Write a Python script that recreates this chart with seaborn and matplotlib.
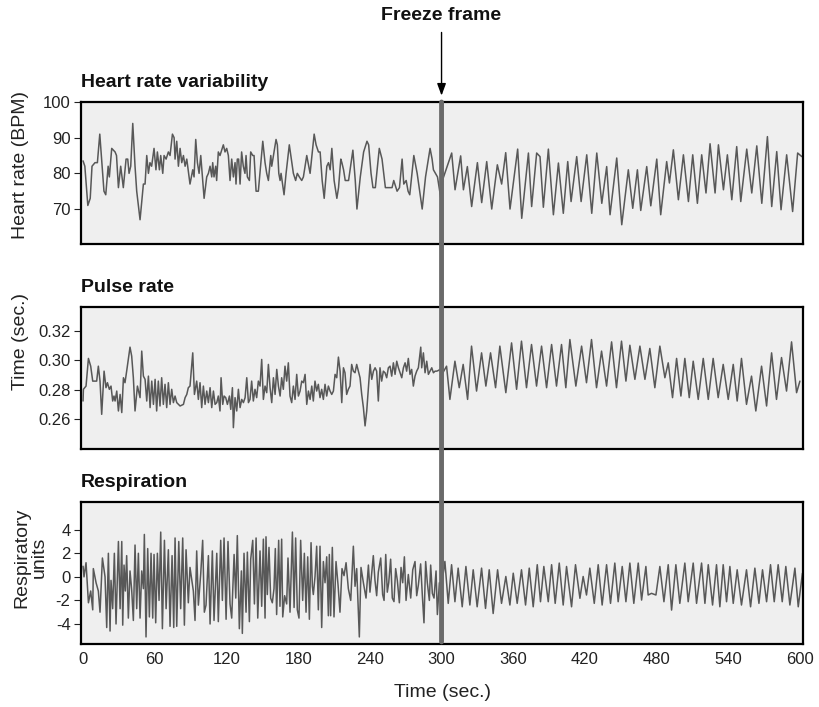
import matplotlib
matplotlib.use("Agg")
import matplotlib.pyplot as plt
import seaborn as sns
from matplotlib.patches import ConnectionPatch

# ---- data (time in seconds) ----
freeze_time = 300
x_ticks = [0, 60, 120, 180, 240, 300, 360, 420, 480, 540, 600]

hr_time = [
    0.0, 1.5, 4.0, 6.0, 7.5, 10.0, 12.0, 14.0, 17.5, 19.0, 21.0, 22.0, 24.0, 26.8, 28.0,
    29.6, 31.5, 33.7, 36.0, 37.4, 38.5, 39.9, 41.6, 43.5, 44.9, 47.7, 50.5, 51.9, 53.3,
    54.7, 56.0, 57.4, 59.4, 61.0, 62.2, 63.9, 65.0, 66.7, 67.8, 69.5, 71.4, 72.8, 74.8,
    76.2, 77.0, 78.4, 79.8, 81.2, 82.6, 84.0, 85.4, 86.8, 89.5, 91.8, 92.9, 94.3, 95.7,
    97.1, 98.5, 99.9, 101.3, 103.5, 104.9, 106.3, 107.7, 108.5, 109.6, 111.0, 111.8,
    113.2, 114.6, 117.4, 118.8, 120.2, 121.6, 123.0, 124.4, 125.8, 127.2, 128.0, 129.1,
    130.2, 131.4, 132.7, 134.1, 135.5, 136.4, 137.5, 139.2, 140.3, 142.0, 143.1, 144.8,
    146.7, 150.4, 152.3, 153.7, 155.1, 157.1, 157.9, 161.5, 162.6, 163.8, 164.9, 165.7,
    168.2, 169.9, 172.6, 174.3, 176.0, 177.9, 179.3, 181.0, 183.0, 184.4, 187.2, 190.0,
    193.4, 195.0, 197.0, 198.4, 200.1, 201.8, 204.0, 205.4, 206.8, 208.2, 210.1, 212.4,
    213.8, 215.7, 216.6, 218.0, 219.4, 222.2, 225.8, 227.8, 229.2, 232.0, 234.8, 237.6,
    239.0, 241.0, 242.6, 244.6, 247.9, 250.2, 253.0, 255.8, 258.6, 260.0, 262.8, 264.8,
    267.0, 268.4, 270.4, 272.0, 273.4, 276.8, 279.6, 283.8, 286.6, 290.4, 292.1, 293.2,
    296.6, 299.4,
    300.9, 308.5, 311.3, 316.0, 318.3, 321.6, 325.2, 330.0, 333.6, 337.8, 342.0, 346.7,
    350.3, 353.7, 357.3, 363.7, 367.1, 372.7, 375.4, 379.6, 382.4, 385.2, 389.4, 393.6,
    397.8, 401.9, 405.6, 408.4, 413.1, 416.8, 421.5, 425.7, 429.9, 434.1, 438.2, 441.0,
    446.6, 450.8, 456.3, 460.0, 463.9, 466.7, 471.7, 475.1, 480.1, 483.4, 488.4, 490.7,
    494.0, 498.2, 502.4, 506.6, 510.2, 514.1, 517.7, 521.3, 524.7, 528.9, 531.7, 535.9,
    539.2, 542.9, 547.0, 550.4, 555.4, 559.6, 563.8, 568.0, 572.7, 576.3, 580.5, 584.1,
    588.8, 593.8, 598.0, 601.5,
]
hr_bpm = [
    83.5, 82, 71, 73, 82, 83, 83, 91, 75, 74, 82, 79, 87, 86, 85,
    76, 82, 76, 84, 84, 80, 82, 94, 82, 75, 67, 77, 77, 85,
    80, 83, 82, 87, 81, 86, 81, 85, 80, 85, 84, 86, 85, 91,
    90, 84, 89, 82, 87, 83, 85, 82, 84, 77, 81, 79, 89.5, 83,
    80, 85, 79, 73, 79, 80, 82, 79, 83, 79, 82, 78,
    86, 85, 88, 86, 87, 85, 78, 84, 79, 83, 77, 84,
    84, 77, 86, 82, 80, 85, 79, 78, 86, 85, 85, 75,
    75, 89, 83, 80, 78, 85, 82, 89.5, 88, 80, 78, 80,
    74, 80, 88, 84, 80, 78, 80, 79, 78, 79, 85, 80,
    91, 88, 86, 86, 78, 73, 82, 83, 81, 87, 78, 73,
    76, 84, 83, 81, 78, 78, 86.5, 78, 70, 79, 86, 89,
    88, 80, 76, 76, 87, 84, 76, 76, 76, 78, 75, 76,
    84, 77, 78, 75, 74, 85, 80, 70, 79, 87, 84, 81,
    79, 73,
    78.2, 85.7, 75.4, 84.9, 75.4, 81.9, 70.7, 83.0, 71.8, 83.3, 70.0, 82.4,
    77.0, 85.8, 70.0, 86.8, 67.4, 85.7, 70.7, 85.7, 84.7, 70.5, 86.8, 68.4,
    82.9, 68.8, 83.3, 72.1, 84.7, 72.1, 85.2, 68.8, 85.7, 71.6, 81.9, 68.4,
    84.3, 65.6, 81.0, 70.2, 81.0, 69.6, 81.9, 70.9, 84.0, 68.4, 83.3, 77.3,
    86.6, 72.6, 85.2, 72.1, 85.2, 71.6, 85.2, 74.5, 88.3, 74.5, 88.0, 75.4,
    85.2, 72.6, 87.5, 72.1, 86.8, 74.5, 87.7, 71.6, 90.3, 70.7, 86.1, 69.8,
    85.2, 69.3, 85.7, 84.7,
]

pulse_time = [
    0.0, 0.3, 2.5, 4.5, 6.4, 8.1, 11.4, 12.8, 14.2, 15.6, 17.6, 19.2, 20.4, 22.0, 23.4,
    24.8, 25.9, 26.8, 28.2, 29.6, 31.0, 32.4, 33.8, 35.1, 36.5, 39.3, 40.7, 42.1, 43.5,
    45.5, 47.7, 49.1, 50.5, 51.9, 53.3, 54.7, 56.1, 57.5, 58.9, 60.3, 61.6, 63.0, 64.4,
    65.8, 67.2, 68.6, 70.0, 71.4, 72.8, 74.2, 75.6, 77.0, 78.4, 79.8, 81.2, 84.0, 85.4,
    86.8, 88.1, 89.5, 91.8, 93.2, 95.1, 96.5, 97.9, 99.3, 100.7, 102.1, 103.5, 104.9,
    106.3, 107.7, 109.1, 110.5, 111.9, 113.2, 114.6, 115.5, 116.9, 118.0, 119.4, 120.8,
    122.5, 123.6, 125.0, 125.8, 127.2, 128.6, 130.0, 131.4, 132.8, 134.2, 135.6, 137.0,
    138.4, 139.7, 141.1, 142.5, 143.9, 145.3, 146.7, 148.1, 149.5, 150.9, 152.3, 153.7,
    155.1, 156.5, 157.9, 159.3, 160.7, 162.1, 163.5, 164.9, 166.2, 167.6, 169.0, 170.4,
    171.8, 173.2, 174.6, 176.0, 177.4, 178.8, 180.2, 181.6, 183.0, 184.4, 185.8, 187.2,
    188.6, 190.0, 191.4, 192.7, 194.1, 195.5, 196.9, 198.3, 199.7, 201.1, 202.5, 203.9,
    205.3, 206.7, 208.1, 209.5, 210.9, 212.3, 213.7, 215.1, 216.5, 217.9, 219.2, 220.6,
    222.0, 223.4, 224.8, 226.2, 227.6, 229.0, 230.4, 231.8, 233.2, 234.6, 236.0, 237.4,
    238.8, 240.2, 241.6, 243.0, 244.4, 245.7, 247.1, 248.5, 249.9, 251.3, 252.7, 254.1,
    255.5, 256.9, 258.3, 259.7, 261.1, 262.5, 263.9, 265.3, 266.7, 268.1, 269.5, 270.8,
    272.2, 273.6, 275.0, 276.4, 277.8, 279.2, 280.6, 282.6, 283.4, 284.8, 286.2, 287.6,
    289.0, 290.4, 291.8, 293.2, 294.6, 296.0, 297.4, 298.7,
    300.0, 304.2, 307.0, 311.2, 314.8, 318.1, 321.8, 325.1, 329.3, 333.5, 337.1, 341.0,
    345.2, 348.8, 353.8, 358.6, 362.8, 366.9, 371.1, 375.3, 379.5, 383.7, 387.9, 392.1,
    396.2, 400.4, 404.0, 407.4, 412.4, 417.2, 421.3, 425.5, 429.7, 433.9, 438.1, 442.3,
    446.4, 450.6, 454.3, 457.6, 461.8, 466.0, 470.2, 474.3, 478.5, 482.7, 486.9, 489.7,
    493.3, 496.7, 500.3, 503.6, 507.3, 510.6, 514.8, 519.0, 523.2, 527.3, 531.5, 535.7,
    539.9, 544.1, 547.4, 551.0, 555.2, 559.4, 563.0, 567.8, 572.0, 576.2, 580.3, 584.5,
    588.7, 592.9, 597.1, 599.9,
]
pulse_sec = [
    0.2723, 0.2803, 0.2825, 0.3014, 0.2961, 0.2859, 0.2859, 0.2961, 0.2859, 0.2632,
    0.2927, 0.2814, 0.2848, 0.2803, 0.2825, 0.2723, 0.2757, 0.2723, 0.2791, 0.2655,
    0.2768, 0.2644, 0.2882, 0.2848, 0.2927, 0.3091, 0.3030, 0.2882, 0.2655, 0.2825,
    0.2746, 0.3064, 0.2893, 0.2871, 0.2723, 0.2893, 0.2678, 0.2859, 0.2700, 0.2871,
    0.2655, 0.2859, 0.2689, 0.2882, 0.2700, 0.2837, 0.2678, 0.2848, 0.2700, 0.2803,
    0.2712, 0.2757, 0.2712, 0.2700, 0.2689, 0.2700, 0.2746, 0.2768, 0.2814, 0.2825,
    0.3052, 0.2768, 0.2859, 0.2734, 0.2848, 0.2678, 0.2825, 0.2700, 0.2791, 0.2712,
    0.2814, 0.2678, 0.2791, 0.2700, 0.2712, 0.2757, 0.2655, 0.2882, 0.2700, 0.2757,
    0.2746, 0.2700, 0.2757, 0.2666, 0.2814, 0.2541, 0.2746, 0.2655, 0.2803, 0.2678,
    0.2734, 0.2712, 0.2746, 0.2882, 0.2712, 0.2734, 0.2859, 0.2723, 0.2803, 0.2746,
    0.2859, 0.2825, 0.3007, 0.2734, 0.2825, 0.2780, 0.2973, 0.2814, 0.2712, 0.2882,
    0.2768, 0.2939, 0.2825, 0.2757, 0.2882, 0.2803, 0.2961, 0.2859, 0.2984, 0.2757,
    0.2712, 0.2825, 0.2734, 0.2905, 0.2757, 0.2791, 0.2859, 0.2848, 0.2905, 0.2700,
    0.2791, 0.2734, 0.2825, 0.2723, 0.2859, 0.2791, 0.2837, 0.2746, 0.2803, 0.2734,
    0.2837, 0.2757, 0.2825, 0.2791, 0.2768, 0.2791, 0.2905, 0.2882, 0.3023, 0.2927,
    0.2712, 0.2950, 0.2916, 0.2768, 0.2803, 0.2825, 0.2973, 0.2927, 0.2916, 0.2973,
    0.2927, 0.2882, 0.2768, 0.2678, 0.2553, 0.2655, 0.2814, 0.2973, 0.2871, 0.2927,
    0.2950, 0.2927, 0.2723, 0.2950, 0.2859, 0.2927, 0.2916, 0.2882, 0.2950, 0.2961,
    0.2893, 0.2984, 0.2905, 0.2995, 0.2950, 0.2916, 0.2882, 0.2950, 0.2984, 0.2927,
    0.3014, 0.2905, 0.2939, 0.2825, 0.2893, 0.2927, 0.2950, 0.3091, 0.2950, 0.3052,
    0.2916, 0.2995, 0.2905, 0.2927, 0.2950, 0.2916, 0.2927, 0.2927, 0.2932, 0.2939,
    0.2900, 0.2961, 0.2734, 0.2995, 0.2814, 0.2973, 0.2734, 0.3098, 0.2791, 0.3052,
    0.2825, 0.3052, 0.2814, 0.3098, 0.2780, 0.3120, 0.2803, 0.3132, 0.2814, 0.3109,
    0.2825, 0.3098, 0.2814, 0.3109, 0.2825, 0.3109, 0.2814, 0.3143, 0.2825, 0.3098,
    0.2848, 0.3143, 0.2814, 0.3064, 0.2825, 0.3127, 0.2814, 0.3132, 0.2859, 0.3104,
    0.2871, 0.3098, 0.2871, 0.3082, 0.2814, 0.3098, 0.2882, 0.2984, 0.2746, 0.3014,
    0.2757, 0.3014, 0.2746, 0.2995, 0.2734, 0.3014, 0.2734, 0.3014, 0.2746, 0.2973,
    0.2734, 0.2973, 0.2723, 0.3014, 0.2700, 0.2893, 0.2655, 0.2961, 0.2689, 0.3052,
    0.2734, 0.3020, 0.2791, 0.3127, 0.2780, 0.2859,
]

resp_time = [
    0.0, 0.8, 2.5, 4.5, 6.4, 8.1, 8.6, 10.9, 12.8, 14.2, 16.2, 18.4, 19.8, 21.2, 22.6,
    23.4, 24.8, 26.2, 27.6, 29.6, 31.0, 32.4, 33.2, 34.3, 35.4, 36.5, 37.9, 39.3, 40.7,
    42.1, 43.5, 44.9, 46.3, 47.7, 49.1, 50.5, 51.3, 52.7, 54.1, 55.5, 56.9, 58.3, 59.4,
    60.8, 62.2, 63.6, 65.0, 66.4, 68.1, 69.5, 71.4, 72.8, 74.5, 75.9, 77.0, 78.4, 80.1,
    81.7, 83.4, 84.8, 86.2, 88.1, 89.5, 92.3, 93.7, 95.1, 96.5, 98.5, 100.1, 101.5,
    102.9, 104.9, 106.3, 108.2, 109.6, 111.9, 113.2, 115.2, 116.6, 118.0, 119.7, 121.3,
    123.0, 124.4, 126.4, 127.8, 129.1, 130.8, 132.5, 133.3, 134.7, 136.4, 137.5, 139.2,
    140.3, 142.0, 143.4, 144.8, 146.2, 148.1, 149.5, 150.9, 152.3, 153.1, 154.2, 155.6,
    157.0, 158.4, 159.8, 160.9, 162.0, 163.7, 164.8, 166.2, 167.1, 168.7, 170.4, 171.5,
    173.2, 175.2, 176.6, 177.9, 179.3, 180.7, 182.1, 183.8, 185.2, 186.6, 188.0, 189.4,
    190.8, 191.9, 192.7, 194.1, 195.5, 196.9, 198.3, 199.7, 201.1, 202.5, 203.9, 205.3,
    206.1, 207.2, 208.6, 210.0, 211.7, 213.4, 215.0, 216.7, 218.4, 220.1, 222.0, 224.0,
    226.2, 227.6, 229.0, 231.2, 232.6, 234.6, 236.8, 238.8, 240.1, 242.9, 244.3, 245.7,
    247.1, 249.1, 250.7, 251.9, 253.3, 254.6, 255.8, 257.4, 258.8, 260.2, 261.6, 263.0,
    264.7, 266.1, 267.5, 268.9, 270.3, 272.2, 274.2, 275.9, 277.8, 279.2, 280.6, 282.5,
    284.0, 285.3, 286.7, 288.1, 289.8, 290.9, 292.3, 293.7, 295.4, 296.5, 298.2,
    300.0, 302.8, 305.6, 308.4, 311.2, 313.9, 317.3, 320.4, 323.7, 326.5, 329.8, 333.5,
    336.8, 339.9, 343.2, 346.9, 350.2, 353.8, 357.2, 360.0, 363.3, 366.9, 370.3, 373.4,
    376.7, 380.1, 382.8, 385.6, 389.3, 392.1, 395.1, 398.5, 401.8, 404.6, 408.8, 412.1,
    415.8, 418.5, 421.3, 424.1, 427.8, 431.1, 434.4, 438.1, 441.4, 445.0, 447.8, 451.2,
    454.3, 457.6, 460.9, 464.6, 467.4, 471.0, 472.9, 475.7, 479.4, 482.7, 486.1, 489.7,
    492.5, 496.1, 499.4, 503.6, 506.4, 510.6, 513.4, 517.6, 520.4, 523.2, 526.8, 530.1,
    532.9, 535.7, 538.5, 541.3, 544.1, 547.4, 551.0, 555.2, 558.6, 562.2, 565.6, 568.6,
    572.0, 575.3, 578.4, 581.7, 585.1, 588.1, 591.5, 595.7, 598.5, 602.0,
]
resp_units = [
    0.9, 0.0, 1.2, -2.2, -1.2, -2.8, 0.7, -0.5, -1.2, -3.0, 1.6, 0.0, -4.3, 2.0, -4.6,
    -0.3, -2.7, 2.0, -4.0, 3.0, -2.7, 3.0, -4.1, 1.0, -1.2, 1.8, -3.5, 0.5, -1.1,
    -3.7, 2.7, -2.7, 2.0, -3.5, 0.5, -1.0, 3.6, -5.1, 2.4, -3.4, 2.0, -3.5, 1.9,
    -3.9, 2.0, -2.0, 3.8, -4.4, 3.1, -2.7, 2.3, -4.2, 1.8, -4.3, 3.3, -4.2, 3.0,
    -2.7, 3.3, -4.1, 2.3, -2.2, 0.8, -1.2, -3.7, 2.2, -2.4, 0.3, 3.1, -3.0,
    -2.4, 1.8, -4.0, 2.2, -3.7, 2.0, -3.8, 3.1, -2.0, 3.3, -3.6, 3.0,
    -2.3, -3.5, 1.9, -1.8, 3.5, -4.4, 0.5, -4.8, 2.0, -3.0, 2.1, -3.8,
    1.5, 3.1, -2.3, 3.3, -3.5, 2.2, -2.5, 3.2, -3.5, 3.4, -1.5, 2.5,
    -1.8, -2.2, -1.0, 2.4, -3.2, 3.1, -2.5, 3.2, -3.4, -1.6, -2.3, 1.6,
    -3.0, 3.8, -2.6, 3.3, -2.8, -3.5, 3.1, -2.0, 2.0, -3.0, 1.7, -3.6,
    2.9, -0.8, -1.5, 0.0, 2.6, -2.8, 2.6, -4.3, 1.3, -0.5, 1.7, -3.3,
    1.9, -3.3, 2.5, -3.4, 1.3, -0.7, -3.0, 0.7, 0.1, 1.2, -1.0, -2.0,
    2.6, -0.8, 0.7, -5.1, 0.8, -0.5, -1.8, 1.0, -1.3, 1.8, -0.3, -1.6,
    0.4, 1.6, -1.5, -2.0, 1.9, -1.3, -0.5, 1.5, -1.8, -2.1, 0.7, -0.3,
    -2.2, 0.8, -0.5, 1.7, -2.0, 0.2, -1.8, 0.6, 1.3, -1.6, -0.7, 1.1,
    -1.7, -3.9, 1.3, -0.5, -2.0, 1.0, -1.4, -1.8, 0.5, -3.2, -0.5,
    -0.8, 1.31, -2.25, 1.03, -2.11, 0.74, -2.54, 0.88, -2.39, 0.60, -2.54, 0.74,
    -2.68, 0.60, -3.11, 0.60, -2.25, 0.03, -2.39, 0.31, -2.25, 0.60, -2.39, 0.74,
    -2.54, 1.03, -2.11, 0.88, -2.11, 1.03, -2.25, 1.17, -2.39, 0.88, -2.54, 1.03,
    -1.82, 0.03, -1.54, 0.74, -2.25, 1.03, -2.39, 1.03, -2.25, 1.17, -2.11, 0.88,
    -2.11, 1.17, -2.25, 1.17, -1.97, 0.88, -1.54, -1.40, -1.54, 0.88, -2.11, 1.03,
    -2.82, 1.03, -2.25, 1.17, -2.11, 1.17, -2.25, 1.17, -2.25, 1.03, -2.39, 1.03,
    -2.54, 1.03, -2.11, 0.88, -2.25, 0.60, -2.39, 0.60, -2.54, 0.74, -2.25, 0.60,
    -2.11, 1.03, -2.11, 1.03, -2.11, 0.88, -2.39, 0.74, -2.54, 0.31,
]

panels = [
    ("Heart rate variability", "Heart rate (BPM)", hr_time, hr_bpm,
     (60.2, 100), [70, 80, 90, 100], ["70", "80", "90", "100"]),
    ("Pulse rate", "Time (sec.)", pulse_time, pulse_sec,
     (0.2395, 0.3365), [0.26, 0.28, 0.30, 0.32], ["0.26", "0.28", "0.30", "0.32"]),
    ("Respiration", "Respiratory\nunits", resp_time, resp_units,
     (-5.7, 6.35), [-4, -2, 0, 2, 4], ["-4", "-2", "0", "2", "4"]),
]

sns.set_theme(style="white")
plt.rcParams["font.family"] = ["Liberation Sans", "DejaVu Sans"]
plt.rcParams["axes.unicode_minus"] = False

fig = plt.figure(figsize=(8.2, 7.07), dpi=100)
bottoms = [0.6549, 0.3649, 0.0891]
label_pos = [(-0.072, 0.556), (-0.072, 0.754), (-0.046, 0.61)]
axes = []
for i, (title, ylab, t, v, ylim, yt, ytl) in enumerate(panels):
    ax = fig.add_axes([0.0988, bottoms[i], 0.8805, 0.2008])
    axes.append(ax)
    ax.set_facecolor("#efefef")
    sns.lineplot(x=t, y=v, ax=ax, color="#585858", linewidth=1.1,
                 estimator=None, sort=False)
    ax.set_xlim(-1.7, 602.5)
    ax.set_ylim(*ylim)
    ax.set_yticks(yt)
    ax.set_yticklabels(ytl)
    ax.tick_params(axis="y", left=True, direction="out", length=5, width=0.8,
                   pad=2.5, labelsize=12, color="#222222", labelcolor="#222222")
    for sp in ax.spines.values():
        sp.set_color("black")
        sp.set_linewidth(1.6)
    ax.set_ylabel(ylab, fontsize=14, color="#222222", linespacing=1.0)
    ax.yaxis.set_label_coords(*label_pos[i])
    ax.text(0.0, 1.103, title, transform=ax.transAxes, ha="left", va="baseline",
            fontsize=14, fontweight="bold", color="#111111")
    ax.set_xticks(x_ticks)
    if i < 2:
        ax.tick_params(axis="x", bottom=False, labelbottom=False)
    else:
        ax.tick_params(axis="x", bottom=False, length=0, pad=6, labelsize=12,
                       labelcolor="#222222")
        ax.set_xticklabels([str(x) for x in x_ticks])
        ax.set_xlabel("Time (sec.)", fontsize=14, color="#222222", labelpad=12)

# freeze-frame marker spanning all three panels
con = ConnectionPatch(xyA=(freeze_time, 1.0), coordsA=axes[0].get_xaxis_transform(),
                      xyB=(freeze_time, 0.015), coordsB=axes[2].get_xaxis_transform(),
                      color="#6a6a6a", linewidth=3.5, zorder=5)
fig.add_artist(con)

top_tr = axes[0].get_xaxis_transform()
axes[0].annotate("", xy=(freeze_time, 1.045), xycoords=top_tr,
                 xytext=(freeze_time, 1.49), textcoords=top_tr,
                 arrowprops=dict(arrowstyle="-|>,head_length=0.6,head_width=0.22",
                                 color="black", lw=1.0, shrinkA=0, shrinkB=0),
                 annotation_clip=False)
axes[0].text(freeze_time, 1.577, "Freeze frame", transform=top_tr, ha="center",
             va="baseline", fontsize=14, fontweight="bold", color="#111111")

fig.savefig("out.png", dpi=100)
